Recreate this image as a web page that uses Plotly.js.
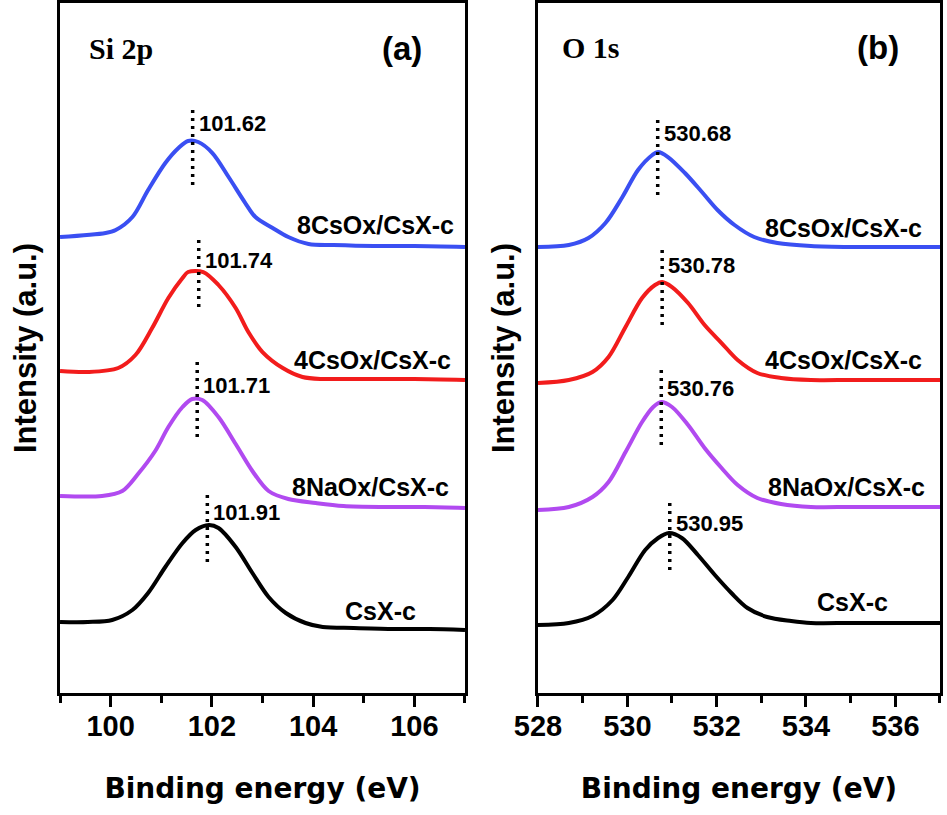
<!DOCTYPE html>
<html>
<head>
<meta charset="utf-8">
<script src="https://cdn.plot.ly/plotly-3.0.1.min.js"></script>
<style>html,body{margin:0;padding:0;background:#fff;}#chart{width:947px;height:815px;}</style>
</head>
<body>
<div id="chart"></div>
<script>
// ---------- Data ----------
// Panel (a): Si 2p
const siBE_8CsOx = [99.0, 99.9, 100.1, 100.43, 100.74, 101.08, 101.34, 101.53, 101.73, 102.01, 102.33, 102.66, 102.86, 103.2, 103.51, 103.91, 104.4, 105.2, 106.0, 107.0];
const siI_8CsOx  = [456, 460, 463, 476, 503, 530, 545, 552, 551, 540, 516, 490, 476, 465, 456, 449, 448, 447, 447, 446];
const siBE_4CsOx = [99.0, 99.55, 100.15, 100.49, 100.82, 101.14, 101.42, 101.53, 101.83, 102.13, 102.47, 102.72, 103.0, 103.4, 103.79, 104.19, 104.4, 105.2, 106.0, 107.0];
const siI_4CsOx  = [322, 321, 325, 338, 365, 395, 415, 421, 421, 408, 385, 361, 341, 325, 316, 314, 314, 314, 314, 313];
const siBE_8NaOx = [99.0, 99.83, 100.23, 100.54, 100.88, 101.14, 101.42, 101.61, 101.81, 102.13, 102.47, 102.8, 103.12, 103.51, 104.05, 104.6, 105.4, 106.2, 107.0];
const siI_8NaOx  = [197, 197, 202, 219, 242, 266, 286, 294, 293, 276, 249, 222, 202, 194, 190, 187, 186, 186, 185];
const siBE_CsX   = [99.0, 99.55, 100.03, 100.43, 100.74, 101.08, 101.42, 101.68, 101.94, 102.13, 102.47, 102.8, 103.12, 103.46, 103.85, 104.19, 104.8, 105.6, 106.3, 107.0];
const siI_CsX    = [71, 71, 73, 83, 100, 126, 150, 163, 168, 165, 146, 120, 96, 80, 70, 66, 65, 64, 64, 63];

// Panel (b): O 1s
const oBE_8CsOx = [528.0, 528.69, 529.13, 529.51, 529.89, 530.24, 530.56, 530.69, 530.91, 531.29, 531.67, 532.02, 532.4, 532.84, 533.36, 534.11, 535.0, 536.0, 537.0];
const oI_8CsOx  = [446, 448, 455, 470, 496, 523, 538, 541, 536, 520, 501, 483, 468, 456, 450, 447, 446, 446, 446];
const oBE_4CsOx = [528.0, 528.69, 529.22, 529.58, 529.96, 530.33, 530.62, 530.78, 531.0, 531.36, 531.73, 532.11, 532.47, 532.91, 533.44, 534.11, 535.0, 536.0, 537.0];
const oI_4CsOx  = [310, 313, 321, 336, 366, 395, 408, 411, 406, 390, 368, 350, 333, 320, 315, 313, 313, 313, 313];
const oBE_8NaOx = [528.0, 528.69, 529.22, 529.58, 529.96, 530.33, 530.58, 530.76, 531.0, 531.36, 531.73, 532.11, 532.47, 532.91, 533.44, 534.11, 535.0, 536.0, 537.0];
const oI_8NaOx  = [183, 186, 196, 211, 241, 271, 286, 291, 286, 268, 245, 225, 208, 195, 189, 186, 186, 186, 186];
const oBE_CsX   = [528.0, 528.69, 529.22, 529.67, 530.02, 530.4, 530.69, 530.93, 531.22, 531.58, 531.96, 532.33, 532.69, 533.13, 533.67, 534.11, 535.0, 536.0, 537.0];
const oI_CsX    = [68, 70, 77, 93, 116, 143, 155, 160, 155, 138, 118, 100, 85, 76, 72, 70, 70, 70, 70];

// Sample names (top to bottom)
const sampleNames = ["8CsOx/CsX-c", "4CsOx/CsX-c", "8NaOx/CsX-c", "CsX-c"];
// Peak positions (eV) marked in each panel, top to bottom
const siPeaks = [101.62, 101.74, 101.71, 101.91];
const oPeaks  = [530.68, 530.78, 530.76, 530.95];
// Vertical extent (intensity units) of each dotted peak marker
const siMarkLow  = [508, 386, 256, 131];
const siMarkHigh = [586, 455, 335, 200];
const oMarkLow   = [498, 368, 248, 123];
const oMarkHigh  = [576, 446, 326, 193];
// Heights of peak value labels and sample name labels
const siPeakLabelY = [570, 433, 308, 180];
const oPeakLabelY  = [560, 428, 305, 169];
const siNameY = [468, 333, 206, 82];
const oNameY  = [465, 333, 206, 91];
const siNameX = [106.82, 106.76, 106.72, 106.07];
const oNameX  = [536.64, 536.64, 536.71, 535.89];

// ---------- Styling ----------
const colors = ["#3a4ff2", "#f21c1c", "#b14af0", "#000000"];
const SANS = "Liberation Sans, Arial, sans-serif";
const SERIF = "Liberation Serif, Times New Roman, serif";

const siX = [siBE_8CsOx, siBE_4CsOx, siBE_8NaOx, siBE_CsX];
const siY = [siI_8CsOx, siI_4CsOx, siI_8NaOx, siI_CsX];
const oX = [oBE_8CsOx, oBE_4CsOx, oBE_8NaOx, oBE_CsX];
const oY = [oI_8CsOx, oI_4CsOx, oI_8NaOx, oI_CsX];

const traces = [];
for (let i = 0; i < 4; i++) {
  traces.push({x: siX[i], y: siY[i], type: "scatter", mode: "lines", xaxis: "x", yaxis: "y",
    line: {color: colors[i], width: 4, shape: "spline", smoothing: 0.9}, hoverinfo: "skip", name: sampleNames[i]});
  traces.push({x: oX[i], y: oY[i], type: "scatter", mode: "lines", xaxis: "x2", yaxis: "y2",
    line: {color: colors[i], width: 4, shape: "spline", smoothing: 0.9}, hoverinfo: "skip", name: sampleNames[i]});
}
for (let i = 0; i < 4; i++) {
  traces.push({x: [siPeaks[i], siPeaks[i]], y: [siMarkLow[i], siMarkHigh[i]], type: "scatter", mode: "lines",
    xaxis: "x", yaxis: "y", line: {color: "#000", width: 3.5, dash: "3px,5px"}, hoverinfo: "skip"});
  traces.push({x: [oPeaks[i], oPeaks[i]], y: [oMarkLow[i], oMarkHigh[i]], type: "scatter", mode: "lines",
    xaxis: "x2", yaxis: "y2", line: {color: "#000", width: 3.5, dash: "3px,5px"}, hoverinfo: "skip"});
}

const annotations = [];
for (let i = 0; i < 4; i++) {
  annotations.push({xref: "x", yref: "y", x: siPeaks[i], y: siPeakLabelY[i], text: siPeaks[i].toFixed(2),
    showarrow: false, xanchor: "left", yanchor: "middle", xshift: 4,
    font: {family: SANS, size: 22, color: "#000", weight: "bold"}});
  annotations.push({xref: "x2", yref: "y2", x: oPeaks[i], y: oPeakLabelY[i], text: oPeaks[i].toFixed(2),
    showarrow: false, xanchor: "left", yanchor: "middle", xshift: 4,
    font: {family: SANS, size: 22, color: "#000", weight: "bold"}});
  annotations.push({xref: "x", yref: "y", x: siNameX[i], y: siNameY[i], text: sampleNames[i],
    showarrow: false, xanchor: "right", yanchor: "middle",
    font: {family: SANS, size: 25, color: "#000", weight: "bold"}});
  annotations.push({xref: "x2", yref: "y2", x: oNameX[i], y: oNameY[i], text: sampleNames[i],
    showarrow: false, xanchor: "right", yanchor: "middle",
    font: {family: SANS, size: 25, color: "#000", weight: "bold"}});
}
annotations.push({xref: "x", yref: "y", x: 99.53, y: 645, text: "Si 2p", showarrow: false, xanchor: "left", yanchor: "middle",
  font: {family: SERIF, size: 30, color: "#000", weight: "bold"}});
annotations.push({xref: "x", yref: "y", x: 105.75, y: 645, text: "(a)", showarrow: false, xanchor: "center", yanchor: "middle",
  font: {family: SANS, size: 33, color: "#000", weight: "bold"}});
annotations.push({xref: "x2", yref: "y2", x: 528.49, y: 646, text: "O 1s", showarrow: false, xanchor: "left", yanchor: "middle",
  font: {family: SERIF, size: 30, color: "#000", weight: "bold"}});
annotations.push({xref: "x2", yref: "y2", x: 535.62, y: 646, text: "(b)", showarrow: false, xanchor: "center", yanchor: "middle",
  font: {family: SANS, size: 33, color: "#000", weight: "bold"}});

function xAxis(domain, range, tick0, anchor) {
  return {
    domain: domain, range: range, anchor: anchor,
    tick0: tick0, dtick: 2, ticks: "outside", ticklen: 11, tickwidth: 3, tickcolor: "#000",
    minor: {dtick: 1, tick0: tick0 - 1, ticks: "outside", ticklen: 7, tickwidth: 3, tickcolor: "#000", showgrid: false},
    showline: true, linewidth: 3, linecolor: "#000", mirror: true,
    showgrid: false, zeroline: false, ticklabelstandoff: -6,
    tickfont: {family: SANS, size: 29, color: "#000", weight: "bold"},
    title: {text: "Binding energy (eV)", standoff: 38, font: {family: "DejaVu Sans, sans-serif", size: 28, color: "#000", weight: "bold"}}
  };
}
function yAxis(anchor) {
  return {
    domain: [0.1497, 0.9963], range: [0, 690], anchor: anchor,
    showticklabels: false, ticks: "", showgrid: false, zeroline: false,
    showline: true, linewidth: 3, linecolor: "#000", mirror: true,
    title: {text: "Intensity (a.u.)", standoff: 12, font: {family: SANS, size: 31, color: "#000", weight: "bold"}}
  };
}

const layout = {
  width: 947, height: 815,
  margin: {l: 0, r: 0, t: 0, b: 0},
  paper_bgcolor: "#fff", plot_bgcolor: "#fff",
  showlegend: false,
  xaxis: xAxis([0.0634, 0.4910], [99, 107], 100, "y"),
  yaxis: yAxis("x"),
  xaxis2: xAxis([0.5681, 0.9926], [528, 537], 528, "y2"),
  yaxis2: yAxis("x2"),
  annotations: annotations
};

Plotly.newPlot("chart", traces, layout, {displayModeBar: false, staticPlot: true});
</script>
</body>
</html>
